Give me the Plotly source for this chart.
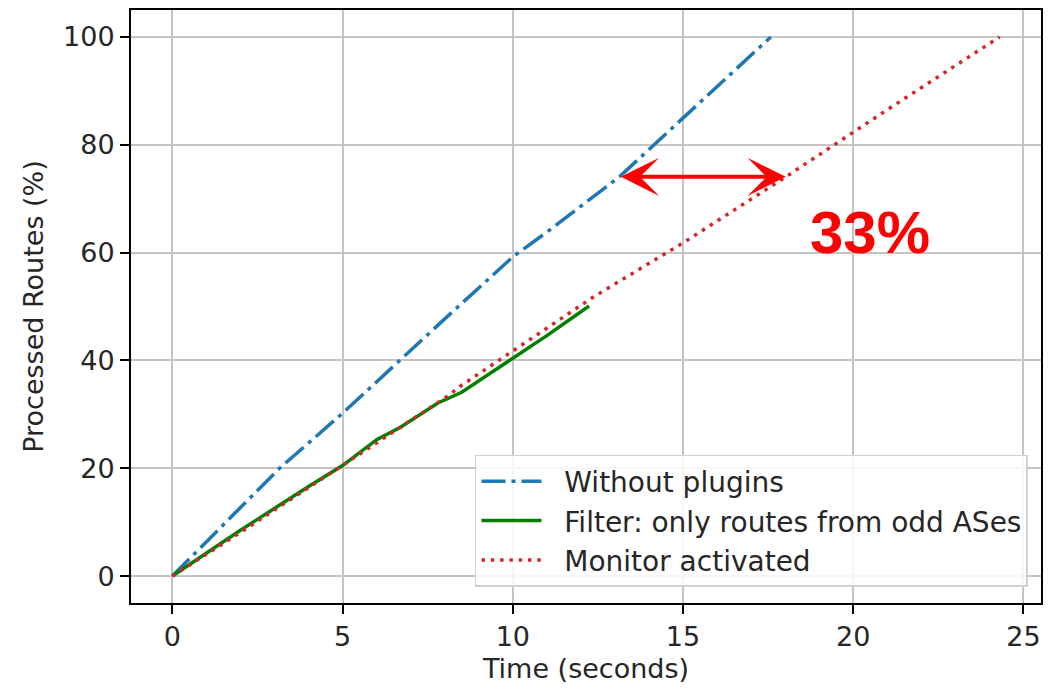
import plotly.graph_objects as go

# Processed routes (%) over time for the three configurations
time_plain = [0, 1, 3.15, 5, 6.67, 8, 10, 11, 13.13, 14.2, 15, 16, 17.58]
routes_plain = [0, 6.4, 20, 30.2, 40, 47.7, 59.2, 63.8, 74.05, 80.3, 84.8, 90.8, 100]

time_filter = [0, 0.8, 2, 4, 5, 6, 6.7, 7.8, 8.5, 10, 11, 12.24]
routes_filter = [0, 3.4, 8.5, 16.6, 20.5, 25.3, 27.6, 32.1, 34.1, 40.4, 44.6, 50.1]

time_monitor = [0, 2, 4, 6, 8, 8.5, 9.6, 12.4, 15, 18.02, 21, 24.3]
routes_monitor = [0, 8.1, 16.4, 24.7, 33, 35.4, 40.1, 51.9, 61.8, 74.05, 86.5, 100]

series_names = ["Without plugins", "Filter: only routes from odd ASes", "Monitor activated"]

# Horizontal gap between the baseline and the monitored run at the same progress level
gap_level = 74.05
gap_start = 13.13
gap_end = 18.02
gap_label = "33%"

x_ticks = [0, 5, 10, 15, 20, 25]
y_ticks = [0, 20, 40, 60, 80, 100]

# small spacer between the legend line sample and its label
pad = "\u00a0\u00a0"

fig = go.Figure()
fig.add_trace(go.Scatter(
    x=time_plain, y=routes_plain, mode="lines", name=pad + series_names[0],
    line=dict(color="#1f77b4", width=3.5, dash="24px,6px,4px,6px"),
))
fig.add_trace(go.Scatter(
    x=time_filter, y=routes_filter, mode="lines", name=pad + series_names[1],
    line=dict(color="#008000", width=3.5),
))
fig.add_trace(go.Scatter(
    x=time_monitor, y=routes_monitor, mode="lines", name=pad + series_names[2],
    line=dict(color="#d62728", width=3.5, dash="3.5px,5.8px"),
))

axis_common = dict(
    showline=True, mirror=True, linecolor="black", linewidth=2,
    ticks="outside", ticklen=9, tickwidth=2, tickcolor="black",
    showgrid=True, gridcolor="#c4c4c4", gridwidth=1.5, zeroline=False,
    tickfont=dict(size=27, color="#262626"),
)

fig.update_xaxes(
    range=[-1.215, 25.515], tickvals=x_ticks,
    title=dict(text="Time (seconds)", font=dict(size=27, color="#262626"), standoff=8),
    **axis_common,
)
fig.update_yaxes(
    range=[-5, 105], tickvals=y_ticks,
    title=dict(text="Processed Routes (%)", font=dict(size=27, color="#262626"), standoff=12),
    **axis_common,
)

fig.add_annotation(
    x=gap_end, y=gap_level, ax=gap_start, ay=gap_level,
    xref="x", yref="y", axref="x", ayref="y",
    text="", showarrow=True, arrowside="end+start",
    arrowhead=3, startarrowhead=3, arrowsize=1.6, startarrowsize=1.6,
    arrowwidth=4, arrowcolor="#ff0000", standoff=0, startstandoff=0,
)
fig.add_annotation(
    x=20.5, y=63.7, xref="x", yref="y", text=gap_label, showarrow=False,
    font=dict(family="Liberation Sans", size=60, color="#ff0000", weight="bold"),
)

fig.update_layout(
    width=1052, height=688,
    margin=dict(l=131, r=11, t=10, b=85, autoexpand=False),
    plot_bgcolor="white", paper_bgcolor="white",
    font=dict(family="DejaVu Sans", size=27, color="#262626"),
    legend=dict(
        x=0.9857, y=0.027, xanchor="right", yanchor="bottom",
        bgcolor="rgba(255,255,255,0.85)", bordercolor="#d0d0d0", borderwidth=1.5,
        itemwidth=60, font=dict(size=28, color="#262626"),
    ),
)

fig.write_html("out.html")
